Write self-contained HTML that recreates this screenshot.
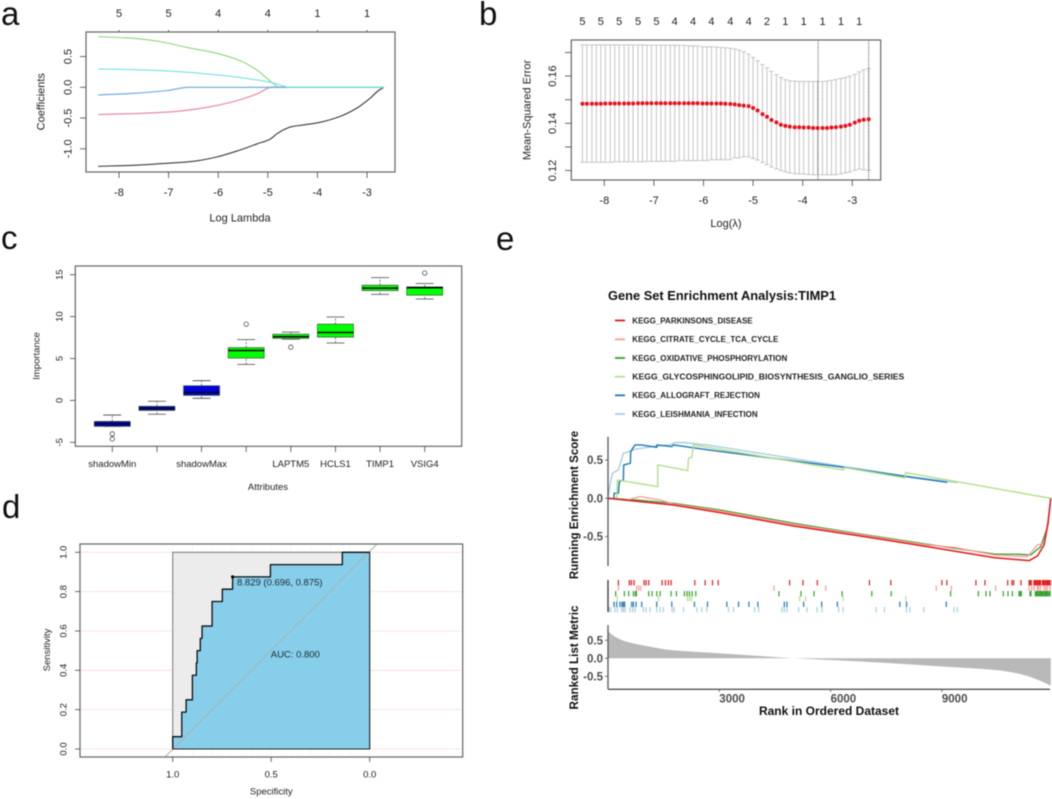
<!DOCTYPE html>
<html lang="en">
<head>
<meta charset="utf-8">
<title>Multi-panel LASSO, Boruta, ROC and GSEA figure</title>
<style>
html,body{margin:0;padding:0;background:#fff;}
svg{display:block;font-family:"Liberation Sans",sans-serif;filter:blur(0.4px);}
</style>
</head>
<body>
<svg id="fig" xmlns="http://www.w3.org/2000/svg" width="1052" height="799" viewBox="0 0 1052 799">
  <rect x="0" y="0" width="1052" height="799" fill="#ffffff"/>

  <text x="1" y="25" font-size="33" fill="#111">a</text>
  <text x="479" y="25" font-size="33" fill="#111">b</text>
  <text x="1" y="249" font-size="33" fill="#111">c</text>
  <text x="2" y="518" font-size="33" fill="#111">d</text>
  <text x="496" y="250" font-size="33" fill="#111">e</text>

  <g id="pa">
    <text x="240" y="221.5" font-size="11" text-anchor="middle" fill="#222">Log Lambda</text>
    <text transform="translate(44.5 101.7) rotate(-90)" font-size="11" text-anchor="middle" fill="#222">Coefficients</text>
  </g>
  <g id="pb">
    <text x="726" y="227" font-size="11" text-anchor="middle" fill="#222">Log(λ)</text>
    <text transform="translate(530.5 110) rotate(-90)" font-size="11" text-anchor="middle" fill="#222">Mean-Squared Error</text>
  </g>
  <g id="pc">
    <text x="268" y="490" font-size="9.5" text-anchor="middle" fill="#222">Attributes</text>
    <text transform="translate(39.5 356) rotate(-90)" font-size="9.5" text-anchor="middle" fill="#222">Importance</text>
  </g>
  <g id="pd"></g>
  <g id="pe">
    <text x="608" y="300" font-size="12.5" font-weight="bold" fill="#111" textLength="228" lengthAdjust="spacingAndGlyphs">Gene Set Enrichment Analysis:TIMP1</text>
    <text transform="translate(578 505) rotate(-90)" font-size="11.5" font-weight="bold" text-anchor="middle" fill="#111">Running Enrichment Score</text>
    <text transform="translate(578 657.5) rotate(-90)" font-size="11.7" font-weight="bold" text-anchor="middle" fill="#111">Ranked List Metric</text>
    <text x="829" y="715" font-size="12" font-weight="bold" text-anchor="middle" fill="#111">Rank in Ordered Dataset</text>
    <g font-size="8" font-weight="bold" fill="#222">
      <line x1="615" x2="625" y1="320.5" y2="320.5" stroke="#E31A1C" stroke-width="1.8"/>
      <text x="632.3" y="323.4">KEGG_PARKINSONS_DISEASE</text>
      <line x1="615" x2="625" y1="339.3" y2="339.3" stroke="#FB9A99" stroke-width="1.8"/>
      <text x="632.3" y="342.2">KEGG_CITRATE_CYCLE_TCA_CYCLE</text>
      <line x1="615" x2="625" y1="358" y2="358" stroke="#33A02C" stroke-width="1.8"/>
      <text x="632.3" y="360.9">KEGG_OXIDATIVE_PHOSPHORYLATION</text>
      <line x1="615" x2="625" y1="376.7" y2="376.7" stroke="#B2DF8A" stroke-width="1.8"/>
      <text x="632.3" y="379.6" textLength="272" lengthAdjust="spacingAndGlyphs">KEGG_GLYCOSPHINGOLIPID_BIOSYNTHESIS_GANGLIO_SERIES</text>
      <line x1="615" x2="625" y1="395.3" y2="395.3" stroke="#1F78B4" stroke-width="1.8"/>
      <text x="632.3" y="398.2">KEGG_ALLOGRAFT_REJECTION</text>
      <line x1="615" x2="625" y1="414" y2="414" stroke="#A6CEE3" stroke-width="1.8"/>
      <text x="632.3" y="416.9">KEGG_LEISHMANIA_INFECTION</text>
    </g>
  </g>
</svg>
<script>
// ---------- Panel a data ----------
const aXTicks = [-8,-7,-6,-5,-4,-3];
const aTopLabels = ["5","5","4","4","1","1"];
const aYTicks = [-1,-0.5,0,0.5];
const aYLabels = ["-1.0","-0.5","0.0","0.5"];
const aBlackL = [-8.42,-7.71,-7.04,-6.50,-6.03,-5.56,-5.22,-4.96,-4.82,-4.69,-4.52,-4.28,-3.95,-3.54,-3.21,-2.94,-2.77,-2.66];
const aBlackC = [-1.285,-1.268,-1.236,-1.203,-1.133,-1.019,-0.921,-0.846,-0.759,-0.694,-0.640,-0.612,-0.569,-0.472,-0.341,-0.179,-0.054,0];
const aPinkL = [-8.42,-7.71,-6.90,-6.23,-5.69,-5.22,-4.92,-2.66];
const aPinkC = [-0.444,-0.428,-0.396,-0.325,-0.233,-0.108,0,0];
const aGreenL = [-8.42,-7.71,-7.17,-6.64,-6.03,-5.56,-5.22,-4.96,-4.76,-2.66];
const aGreenC = [0.824,0.797,0.743,0.650,0.553,0.434,0.282,0.108,0,0];
const aBlueL = [-8.42,-7.71,-7.04,-6.60,-2.66];
const aBlueC = [-0.125,-0.098,-0.054,0,0];
const aCyanL = [-8.42,-7.71,-7.04,-6.37,-5.69,-5.22,-4.89,-4.55,-2.66];
const aCyanC = [0.298,0.287,0.266,0.228,0.173,0.119,0.070,0,0];

// ---------- Panel b data ----------
const bLambda = [-8.44,-8.35,-8.25,-8.16,-8.07,-7.98,-7.88,-7.79,-7.70,-7.60,-7.51,-7.42,-7.32,-7.23,-7.14,-7.05,-6.95,-6.86,-6.77,-6.67,-6.58,-6.49,-6.39,-6.30,-6.21,-6.12,-6.02,-5.93,-5.84,-5.74,-5.65,-5.56,-5.46,-5.37,-5.28,-5.19,-5.09,-5.00,-4.91,-4.81,-4.72,-4.63,-4.53,-4.44,-4.35,-4.26,-4.16,-4.07,-3.98,-3.88,-3.79,-3.70,-3.60,-3.51,-3.42,-3.33,-3.23,-3.14,-3.05,-2.95,-2.86,-2.77,-2.67];
const bMse = [.1483,.1483,.1483,.1483,.1483,.1484,.1484,.1484,.1484,.1484,.1484,.1484,.1485,.1485,.1485,.1485,.1485,.1485,.1485,.1485,.1485,.1485,.1485,.1485,.1485,.1485,.1484,.1484,.1484,.1484,.1484,.1483,.1482,.1480,.1477,.1475,.1473,.1465,.1454,.1439,.1428,.1414,.1404,.1394,.1389,.1386,.1383,.1383,.1382,.1382,.1380,.1380,.1380,.1380,.1382,.1383,.1386,.1389,.1394,.1403,.1411,.1415,.1417];
const bUpper = [.1732,.1732,.1732,.1732,.1732,.1732,.1732,.1732,.1732,.1732,.1732,.1732,.1732,.1732,.1731,.1731,.1731,.1731,.1731,.1731,.1731,.1730,.1730,.1728,.1728,.1728,.1724,.1724,.1724,.1723,.1721,.1720,.1718,.1715,.1710,.1703,.1693,.1679,.1665,.1649,.1635,.1620,.1606,.1594,.1585,.1580,.1579,.1577,.1577,.1577,.1577,.1577,.1577,.1579,.1582,.1586,.1590,.1594,.1600,.1608,.1618,.1627,.1632];
const bLower = [.1235,.1235,.1235,.1235,.1235,.1235,.1235,.1237,.1237,.1237,.1237,.1237,.1237,.1237,.1239,.1239,.1239,.1239,.1239,.1239,.1239,.1242,.1242,.1242,.1242,.1242,.1242,.1242,.1246,.1246,.1246,.1246,.1246,.1254,.1254,.1258,.1258,.1251,.1244,.1234,.1225,.1215,.1207,.1200,.1194,.1190,.1187,.1186,.1185,.1183,.1182,.1182,.1182,.1182,.1182,.1183,.1186,.1190,.1194,.1201,.1206,.1203,.1200];
const bTopLabels = ["5","5","5","5","5","4","4","4","4","4","2","1","1","1","1","1"];
const bXTicks = [-8,-7,-6,-5,-4,-3];
const bYTicks = [.12,.13,.14,.15,.16,.17];
const bYLabels = ["0.12","","0.14","","0.16",""];
const bVLines = [-3.69,-2.67];

// ---------- Panel c data ----------
const cLabels = ["shadowMin","","shadowMax","","LAPTM5","HCLS1","TIMP1","VSIG4"];
const cFill = ["#0000c8","#0000c8","#0000e0","#00ff00","#00ff00","#00ff00","#00ff00","#00ff00"];
const cMin = [-3.1,-1.65,0.25,4.3,7.3,6.85,12.65,12.1];
const cQ1 = [-3.1,-1.2,0.6,5.05,7.4,7.55,13.1,12.55];
const cMed = [-2.8,-0.95,0.95,5.95,7.6,8.1,13.4,13.45];
const cQ3 = [-2.5,-0.7,1.75,6.3,7.9,9.1,13.75,13.55];
const cMax = [-1.75,-0.1,2.35,7.25,8.15,9.95,14.65,13.95];
const cOutliers = [[-4.0,-4.6],[],[],[9.1],[6.35],[],[],[15.2]];
const cYTicks = [-5,0,5,10,15];

// ---------- Panel d data ----------
const dSpec = [1,1,.954,.954,.932,.932,.9,.9,.88,.88,.876,.876,.86,.86,.851,.851,.8,.8,.748,.748,.696,.696,.504,.504,.139,.139,0];
const dSens = [0,.0625,.0625,.1875,.1875,.25,.25,.375,.375,.4375,.4375,.5,.5,.5625,.5625,.625,.625,.75,.75,.8125,.8125,.875,.875,.9375,.9375,1,1];
const dYTicks = [0,.2,.4,.6,.8,1];
const dYLabels = ["0.0","0.2","0.4","0.6","0.8","1.0"];
const dXTicks = [1,.5,0];
const dXLabels = ["1.0","0.5","0.0"];
const dVGrid = [1,.9,.8,.7,.6,.5,.4,.3,.2,.1,0];
const dBest = [.696,.875];

// ---------- Panel e data ----------
const eXTicks = [3000,6000,9000];
const eXLabels = ["3000","6000","9000"];
const eYTicks = [0.5,0,-0.5];
const eYLabels = ["0.5","0.0","-0.5"];
const mYTicks = [0.5,0,-0.5];
const mYLabels = ["0.5","0.0","-0.5"];

const esLightBlueR = [0,54,117,279,414,639,729,1314,1674,1809,2079,2664,4104,6354,8028,9414];
const esLightBlueV = [0,.174,.326,.37,.587,.622,.639,.683,.696,.726,.726,.696,.587,.413,.291,.204];
const esBlueR = [162,162,279,306,414,423,603,612,666,729,909,1314,1314,1719,1764,2715,6354,8028,9144];
const esBlueV = [0,.065,.065,.217,.239,.435,.457,.609,.652,.696,.696,.665,.696,.674,.696,.630,.404,.283,.209];
const esLightGreenR = [234,252,1341,1341,2151,2169,2259,2304,6345,6372,8010,8019,11934];
const esLightGreenV = [0,.239,.152,.435,.361,.522,.535,.696,.370,.400,.265,.335,0];
const esRoseR = [0,504,864,1404,1764,3024,5004,6804,8604,9324,10404,11304,11574,11754,11862,11934];
const esRoseV = [0,-.022,.022,-.022,-.074,-.165,-.339,-.474,-.609,-.639,-.739,-.761,-.609,-.587,-.283,0];
const esGreenR = [0,774,1764,3024,5004,6804,8604,10404,11124,11394,11664,11844,11934];
const esGreenV = [0,-.022,-.065,-.152,-.326,-.465,-.6,-.726,-.730,-.739,-.630,-.370,0];
const esRedR = [0,864,1764,3024,5004,6804,8604,10404,11349,11574,11754,11862,11934];
const esRedV = [0,-.043,-.087,-.187,-.361,-.491,-.630,-.774,-.813,-.752,-.609,-.326,0];

const rugRed = [279,576,630,702,972,1026,1098,1458,1548,1629,1701,2340,2619,2817,2970,4896,5256,5643,7047,7623,9000,9135,9918,10161,10773,10890,10935,11133,11349,11380,11410,11484,11510,11540,11570,11600,11630,11660,11710,11740,11770,11800,11830,11860,11890,11920];
const rugRose = [279,774,828,882,4473,5868,8847,9252,10449,11349,11420,11484,11574,11610,11664,11754,11800,11844,11916];
const rugGreen = [207,441,558,684,738,765,1098,1188,1314,1404,1701,1845,2061,2133,2196,2268,2367,4608,5202,5553,6309,7110,7632,9234,9981,10188,10296,10656,10782,10899,11079,11110,11142,11376,11400,11520,11550,11580,11610,11640,11670,11700,11730,11760,11790,11820,11850,11880,11915];
const rugLightGreen = [252,1359,2142,2196,2250,5166,5328,6336,8028];
const rugBlue = [162,234,324,378,414,450,639,684,756,909,1314,1719,2331,2682,3204,3519,3798,4041,4752,4824,5274,5760,6183,7866,8046,9117];
const rugLightBlue = [27,72,189,252,369,414,459,594,666,729,954,1026,1134,1314,1404,1494,1728,1782,2034,2394,2529,2664,3249,3384,3951,4059,4689,4752,4824,5139,5364,5634,5769,6219,6336,7227,7452,8046,8136,8514,9324,9414];

const metricRank = [0,90,189,504,1044,1674,2979,4104,5004,6354,7704,9054,10404,10900,11304,11664,11934];
const metricValue = [.75,.67,.6,.46,.34,.23,.14,.065,0,-.065,-.14,-.23,-.32,-.39,-.49,-.63,-.76];

// ---------- helpers ----------
const NS = "http://www.w3.org/2000/svg";
function mk(parent, tag, attrs, name) {
  const el = document.createElementNS(NS, tag);
  for (const k in attrs) el.setAttribute(k, attrs[k]);
  
  
  parent.appendChild(el);
  return el;
}
function line(p, x1, y1, x2, y2, stroke, w, name, dash) {
  const a = {x1, y1, x2, y2, stroke, 'stroke-width': w};
  if (dash) a['stroke-dasharray'] = dash;
  return mk(p, 'line', a, name);
}
function text(p, x, y, s, size, fill, name, anchor, weight) {
  const el = mk(p, 'text', {x, y, 'font-size': size, fill, 'text-anchor': anchor || 'middle', 'font-weight': weight || 'normal'}, name);
  el.textContent = s;
  return el;
}
function vtext(p, x, y, s, size, fill, name) {
  const el = mk(p, 'text', {transform: 'translate(' + x + ' ' + y + ') rotate(-90)', 'font-size': size, fill, 'text-anchor': 'middle'}, name);
  el.textContent = s;
  return el;
}
function poly(p, xs, ys, fx, fy, stroke, w, name) {
  const pts = xs.map((v, i) => fx(v).toFixed(2) + ',' + fy(ys[i]).toFixed(2)).join(' ');
  return mk(p, 'polyline', {points: pts, fill: 'none', stroke, 'stroke-width': w, 'stroke-linejoin': 'round'}, name);
}
// Monotone cubic path segments through the data points (no overshoot at corners).
function smoothSegs(xs, ys) {
  const n = xs.length, d = [], m = [];
  for (let i = 0; i < n - 1; i++) d.push((ys[i + 1] - ys[i]) / (xs[i + 1] - xs[i]));
  m[0] = d[0];
  m[n - 1] = d[n - 2];
  for (let i = 1; i < n - 1; i++) m[i] = d[i - 1] * d[i] <= 0 ? 0 : 2 * d[i - 1] * d[i] / (d[i - 1] + d[i]);
  let s = '';
  for (let i = 0; i < n - 1; i++) {
    const h = (xs[i + 1] - xs[i]) / 3;
    s += ' C' + (xs[i] + h).toFixed(2) + ' ' + (ys[i] + m[i] * h).toFixed(2) + ' ' +
      (xs[i + 1] - h).toFixed(2) + ' ' + (ys[i + 1] - m[i + 1] * h).toFixed(2) + ' ' +
      xs[i + 1].toFixed(2) + ' ' + ys[i + 1].toFixed(2);
  }
  return s;
}
function smooth(p, xs, ys, fx, fy, stroke, w, name) {
  const px = xs.map(fx), py = ys.map(fy);
  const d = 'M' + px[0].toFixed(2) + ' ' + py[0].toFixed(2) + smoothSegs(px, py);
  return mk(p, 'path', {d, fill: 'none', stroke, 'stroke-width': w}, name);
}
const FRAME = '#666666', AX = '#444', TXT = '#222';

// ---------- Panel a ----------
(function () {
  const g = document.getElementById('pa');
  const X = v => 119 + (v + 8) * 49.6;
  const Y = v => 87.3 - v * 61.5;
  mk(g, 'rect', {x: 86, y: 32, width: 309, height: 140, fill: 'none', stroke: FRAME, 'stroke-width': 1.2}, 'plot-frame');
  aXTicks.forEach((t, i) => {
    line(g, X(t), 172, X(t), 178, AX, .8, 'x-tick');
    text(g, X(t), 196, String(t), 11, TXT, 'x-tick-label');
    line(g, X(t), 32, X(t), 30, AX, .8, 'top-tick');
    text(g, X(t), 17, aTopLabels[i], 11, TXT, 'top-count-label');
  });
  aYTicks.forEach((t, i) => {
    line(g, 86, Y(t), 80, Y(t), AX, .8, 'y-tick');
    vtext(g, 71.5, Y(t), aYLabels[i], 11, TXT, 'y-tick-label');
  });
  smooth(g, aBlackL, aBlackC, X, Y, '#3a3a3a', 1.1, 'coef-line-black');
  smooth(g, aPinkL, aPinkC, X, Y, '#e57f95', 1.1, 'coef-line-pink');
  smooth(g, aGreenL, aGreenC, X, Y, '#8fd37f', 1.1, 'coef-line-green');
  smooth(g, aBlueL, aBlueC, X, Y, '#62a6de', 1.1, 'coef-line-blue');
  smooth(g, aCyanL, aCyanC, X, Y, '#74e2e4', 1.1, 'coef-line-cyan');
})();

// ---------- Panel b ----------
(function () {
  const g = document.getElementById('pb');
  const X = v => 604.3 + (v + 8) * 49.6;
  const Y = v => 123.3 - (v - .14) * 2360;
  const capColor = '#c4c4c4';
  bLambda.forEach((l, i) => {
    line(g, X(l), Y(bUpper[i]), X(l), Y(bLower[i]), capColor, 1, 'error-bar');
    line(g, X(l) - 2.3, Y(bUpper[i]), X(l) + 2.3, Y(bUpper[i]), capColor, 1, 'error-cap-upper');
    line(g, X(l) - 2.3, Y(bLower[i]), X(l) + 2.3, Y(bLower[i]), capColor, 1, 'error-cap-lower');
  });
  bVLines.forEach(v => line(g, X(v), 40, X(v), 180, '#333', .9, 'lambda-reference-line', '1 1.2'));
  bLambda.forEach((l, i) => mk(g, 'circle', {cx: X(l), cy: Y(bMse[i]), r: 2, fill: '#e8101c'}, 'mse-point'));
  mk(g, 'rect', {x: 571.3, y: 40, width: 309.4, height: 140, fill: 'none', stroke: FRAME, 'stroke-width': 1.2}, 'plot-frame');
  bXTicks.forEach(t => {
    line(g, X(t), 180, X(t), 186, AX, .8, 'x-tick');
    text(g, X(t), 204, String(t), 11, TXT, 'x-tick-label');
  });
  bYTicks.forEach((t, i) => {
    line(g, 571.3, Y(t), 565, Y(t), AX, .8, 'y-tick');
    if (bYLabels[i]) vtext(g, 556, Y(t), bYLabels[i], 11, TXT, 'y-tick-label');
  });
  bTopLabels.forEach((s, i) => text(g, X(bLambda[i * 4]), 25, s, 11, TXT, 'top-count-label'));
})();

// ---------- Panel c ----------
(function () {
  const g = document.getElementById('pc');
  const X = i => 112.3 + 44.63 * i;
  const Y = v => 400.4 - v * 8.38;
  mk(g, 'rect', {x: 75.3, y: 266, width: 386.4, height: 180.3, fill: 'none', stroke: FRAME, 'stroke-width': 1.2}, 'plot-frame');
  cYTicks.forEach(t => {
    line(g, 75.3, Y(t), 70, Y(t), AX, .8, 'y-tick');
    vtext(g, 62.5, Y(t), String(t), 9.5, TXT, 'y-tick-label');
  });
  cLabels.forEach((s, i) => {
    const x = X(i);
    line(g, x, 446.3, x, 452, AX, .8, 'x-tick');
    if (s) text(g, x, 467, s, 9.5, TXT, 'x-tick-label');
    line(g, x, Y(cMin[i]), x, Y(cQ1[i]), '#444', .7, 'whisker-lower', '2 1.5');
    line(g, x, Y(cQ3[i]), x, Y(cMax[i]), '#444', .7, 'whisker-upper', '2 1.5');
    line(g, x - 9, Y(cMin[i]), x + 9, Y(cMin[i]), '#444', .8, 'whisker-cap-lower');
    line(g, x - 9, Y(cMax[i]), x + 9, Y(cMax[i]), '#444', .8, 'whisker-cap-upper');
    mk(g, 'rect', {x: x - 18, y: Y(cQ3[i]), width: 36, height: Y(cQ1[i]) - Y(cQ3[i]), fill: cFill[i], stroke: '#3a5a3a', 'stroke-width': .7}, 'box');
    line(g, x - 18, Y(cMed[i]), x + 18, Y(cMed[i]), '#0a0a0a', 1.5, 'box-median');
    cOutliers[i].forEach(o => mk(g, 'circle', {cx: x, cy: Y(o), r: 2.2, fill: 'none', stroke: '#333', 'stroke-width': .7}, 'box-outlier'));
  });
})();

// ---------- Panel d ----------
(function () {
  const g = document.getElementById('pd');
  const X = s => 369.7 - s * 197;
  const Y = s => 749 - s * 196.7;
  dVGrid.forEach(v => line(g, X(v), 544, X(v), 757, '#c8ecc8', .7, 'vertical-grid-line', '1 1.5'));
  dYTicks.forEach(v => line(g, 80, Y(v), 462.7, Y(v), '#f5b4ba', .8, 'horizontal-grid-line', '1 1'));
  mk(g, 'rect', {x: X(1), y: Y(1), width: 197, height: 196.7, fill: '#ececec', stroke: 'none'}, 'roc-upper-area');
  const pts = dSpec.map((s, i) => X(s).toFixed(2) + ',' + Y(dSens[i]).toFixed(2)).join(' ');
  mk(g, 'polygon', {points: pts + ' ' + X(0) + ',' + Y(0), fill: '#87ceeb', stroke: 'none'}, 'roc-auc-area');
  line(g, 165, 757, 377, 544, '#b0b0b0', 1, 'chance-diagonal');
  mk(g, 'rect', {x: X(1), y: Y(1), width: 197, height: 196.7, fill: 'none', stroke: '#777', 'stroke-width': 1}, 'roc-inner-frame');
  mk(g, 'rect', {x: X(1), y: Y(0) - .5, width: 197, height: 1, fill: '#222'}, 'roc-baseline');
  mk(g, 'line', {x1: X(0), y1: Y(1), x2: X(0), y2: Y(0), stroke: '#222', 'stroke-width': 1}, 'roc-right-edge');
  poly(g, dSpec, dSens, X, Y, '#0d0d0d', 1.3, 'roc-curve');
  mk(g, 'circle', {cx: X(dBest[0]), cy: Y(dBest[1]), r: 1.6, fill: '#000'}, 'best-threshold-point');
  text(g, 237, 585.7, '8.829 (0.696, 0.875)', 9.5, '#1a2a33', 'best-threshold-label', 'start');
  text(g, 295.3, 657.4, 'AUC: 0.800', 9.5, '#1a2a33', 'auc-label');
  mk(g, 'rect', {x: 80, y: 544, width: 382.7, height: 213, fill: 'none', stroke: FRAME, 'stroke-width': 1.2}, 'plot-frame');
  dXTicks.forEach((t, i) => {
    line(g, X(t), 757, X(t), 762, AX, .8, 'x-tick');
    text(g, X(t), 777.3, dXLabels[i], 9.5, TXT, 'x-tick-label');
  });
  dYTicks.forEach((t, i) => {
    line(g, 80, Y(t), 75, Y(t), AX, .8, 'y-tick');
    vtext(g, 66.7, Y(t), dYLabels[i], 9.5, TXT, 'y-tick-label');
  });
  text(g, 271.3, 794.3, 'Specificity', 9.5, TXT, 'x-axis-title');
  vtext(g, 50, 650, 'Sensitivity', 9.5, TXT, 'y-axis-title');
})();

// ---------- Panel e ----------
(function () {
  const g = document.getElementById('pe');
  const X = r => 608 + r * 0.0371;
  const Y = v => 498.3 - v * 76.7;
  const M = v => 658.3 - v * 36;
  const LBL = '#4d4d4d';

  poly(g, esLightBlueR, esLightBlueV, X, Y, '#A6CEE3', 1.4, 'es-curve-leishmania');
  poly(g, esBlueR, esBlueV, X, Y, '#1F78B4', 1.4, 'es-curve-allograft');
  poly(g, esLightGreenR, esLightGreenV, X, Y, '#B2DF8A', 1.4, 'es-curve-glycosphingolipid');
  poly(g, esGreenR, esGreenV, X, Y, '#33A02C', 1.3, 'es-curve-oxphos');
  poly(g, esRoseR, esRoseV, X, Y, '#FB9A99', 1.3, 'es-curve-citrate');
  poly(g, esRedR, esRedV, X, Y, '#E31A1C', 1.5, 'es-curve-parkinsons');

  line(g, 608, 436.7, 608, 566, '#555', 1.3, 'running-score-y-axis');
  eYTicks.forEach((t, i) => {
    line(g, 605, Y(t), 608, Y(t), '#555', .8, 'y-tick');
    text(g, 603, Y(t) + 4, eYLabels[i], 11.5, LBL, 'y-tick-label', 'end', 'bold');
  });

  [[rugRed, '#E31A1C', 580], [rugRose, '#FB9A99', 585.5], [rugGreen, '#33A02C', 591],
   [rugLightGreen, '#B2DF8A', 596], [rugBlue, '#1F78B4', 601.6], [rugLightBlue, '#A6CEE3', 607]].forEach(row => {
    row[0].forEach(r => line(g, X(r), row[2], X(r), row[2] + 5.4, row[1], 1.2, 'gene-rug-tick'));
  });
  line(g, 608, 580, 608, 612, '#333', 1.3, 'rug-axis');

  const px = metricRank.map(X), py = metricValue.map(M);
  const end = px[px.length - 1];
  const d = 'M' + X(0) + ' ' + M(0) + ' L' + px[0] + ' ' + py[0] + smoothSegs(px, py) + ' L' + end + ' ' + M(0) + ' Z';
  mk(g, 'path', {d, fill: '#b9b9b9', stroke: 'none'}, 'ranked-metric-area');
  line(g, 608, 625, 608, 689.3, '#555', 1.3, 'ranked-metric-y-axis');
  line(g, 608, 689.3, 1050, 689.3, '#555', 1.3, 'ranked-metric-x-axis');
  mYTicks.forEach((t, i) => {
    line(g, 605, M(t), 608, M(t), '#555', .8, 'y-tick');
    text(g, 603, M(t) + 4, mYLabels[i], 11.5, LBL, 'y-tick-label', 'end', 'bold');
  });
  eXTicks.forEach((t, i) => {
    line(g, X(t), 689.3, X(t), 692, '#555', .8, 'x-tick');
    text(g, X(t), 702.5, eXLabels[i], 11.5, LBL, 'x-tick-label', 'start', 'bold');
  });
})();
</script>
</body>
</html>
